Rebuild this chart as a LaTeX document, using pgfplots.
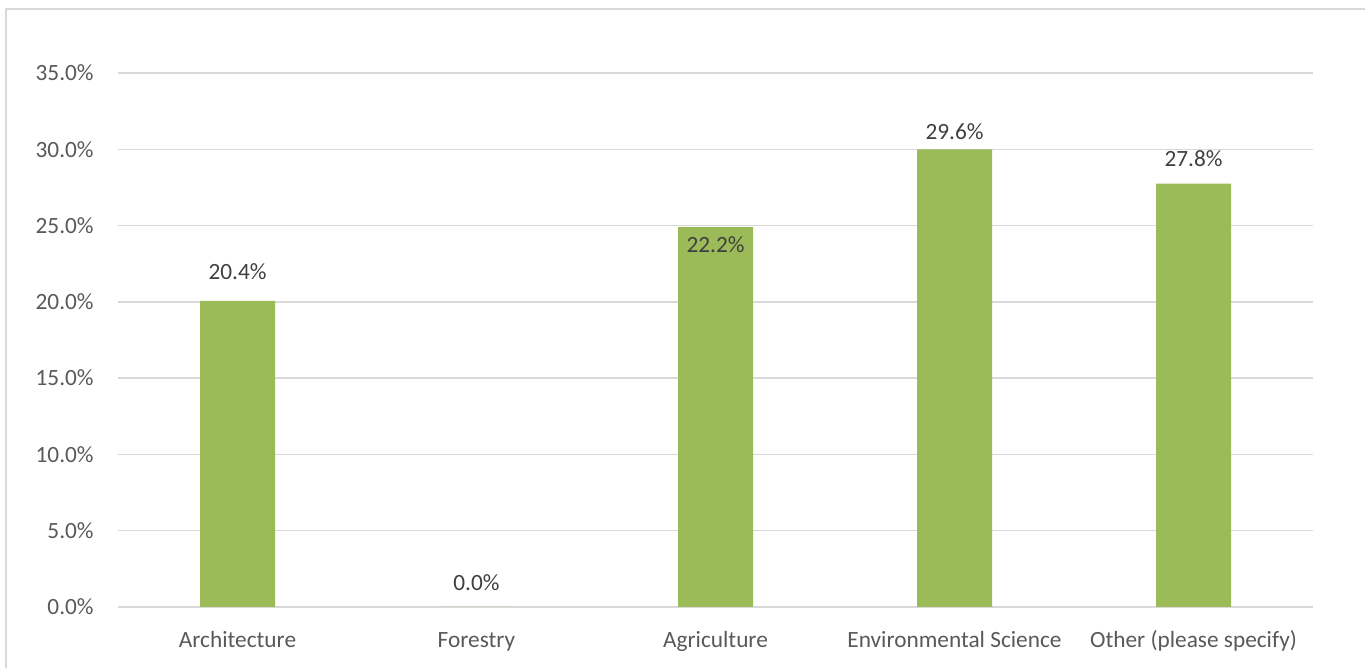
\documentclass[border=0pt]{standalone}
\usepackage{pgfplots}
\pgfplotsset{compat=1.18}
\usepackage{pgfplotstable}
\usepackage{fontspec}
\setmainfont{Carlito}
\definecolor{txt}{HTML}{595959}
\definecolor{lbl}{HTML}{404040}
\definecolor{grd}{HTML}{D9D9D9}
\definecolor{barc}{HTML}{9BBB59}
\pgfplotstableread{
x bar lab
0 20.06 20.4
1 0 0.0
2 24.9 22.2
3 30.0 29.6
4 27.75 27.8
}\datatab
\begin{document}
\begin{tikzpicture}
\path[use as bounding box] (0,0) rectangle (682.5pt,334pt);
\draw[grd, line width=0.9pt] (3pt,-10pt) -- (3pt,329.5pt) -- (700pt,329.5pt);
\begin{axis}[
  at={(59pt,30.5pt)}, anchor=south west, scale only axis,
  width=597.5pt, height=267pt,
  xmin=-0.5, xmax=4.5, ymin=0, ymax=35,
  ytick={0,5,...,35}, xtick={0,1,2,3,4},
  xticklabels={Architecture,Forestry,Agriculture,Environmental Science,Other (please specify)},
  yticklabel={\pgfmathprintnumber[fixed,fixed zerofill,precision=1,assume math mode=true]{\tick}\%},
  ymajorgrids, grid style={grd, line width=0.75pt},
  axis line style={draw=none}, major tick length=0,
  every tick label/.append style={font=\fontsize{11.65}{14}\selectfont, text=txt},
  yticklabel style={anchor=east, inner sep=0pt, xshift=-12pt},
  xticklabel style={anchor=base, inner sep=0pt, yshift=-20.5pt},
  clip=false,
]
\addplot[ybar, bar width=37.5pt, bar shift=0pt, fill=barc, draw=none] table[x=x, y=bar] {\datatab};
\addplot[draw=none, mark=none, nodes near coords={\pgfmathprintnumber[fixed,fixed zerofill,precision=1,assume math mode=true]{\pgfplotspointmeta}\%},
  point meta=y,
  nodes near coords style={anchor=center, inner sep=0pt, yshift=12pt, font=\fontsize{11.65}{14}\selectfont, text=lbl}]
  table[x=x, y=lab] {\datatab};
\end{axis}
\end{tikzpicture}
\end{document}
